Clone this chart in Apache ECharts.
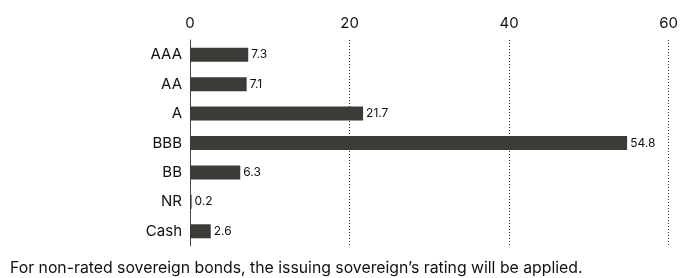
<!DOCTYPE html>
<html><head><meta charset="utf-8">
<script src="https://cdn.jsdelivr.net/npm/echarts@6/dist/echarts.min.js"></script>
<style>html,body{margin:0;padding:0;background:#fff}#c{width:681px;height:278px}</style>
</head><body><div id="c"></div>
<script>
const categories = ['AAA','AA','A','BBB','BB','NR','Cash'];
const values = [7.3, 7.1, 21.7, 54.8, 6.3, 0.2, 2.6];
const xTicks = [0, 20, 40, 60];
const footnote = 'For non-rated sovereign bonds, the issuing sovereign\u2019s rating will be applied.';

const chart = echarts.init(document.getElementById('c'), null, {renderer:'canvas'});
const font = 'Inter, "Liberation Sans", sans-serif';
chart.setOption({
  animation:false,
  grid:{left:190, right:11, top:40, bottom:32, containLabel:false},
  xAxis:{type:'value', position:'top', min:xTicks[0], max:xTicks[xTicks.length-1], interval:20,
    axisLine:{show:false}, axisTick:{show:false},
    axisLabel:{color:'#111', fontSize:15, fontFamily:font, margin:9},
    splitLine:{show:true, lineStyle:{type:[1,2], width:1, color:['rgba(0,0,0,0)','#333','#333','#333']}}},
  yAxis:{type:'category', data:categories, inverse:true,
    axisLine:{show:true, lineStyle:{color:'#444', width:1}}, axisTick:{show:false},
    axisLabel:{color:'#111', fontSize:15, fontFamily:font, margin:8}},
  series:[{type:'bar', data:values, barWidth:14, itemStyle:{color:'#3a3c38'},
    label:{show:true, position:'right', distance:3, color:'#111', fontSize:12, fontFamily:font}}],
  graphic:[{type:'text', left:10, top:260, style:{text:footnote, fill:'#111', font:'15.8px '+font}}]
});
</script></body></html>
